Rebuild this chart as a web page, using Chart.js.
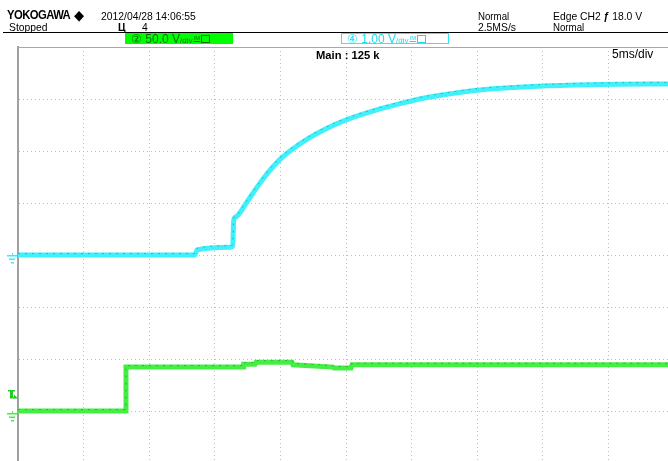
<!DOCTYPE html>
<html>
<head>
<meta charset="utf-8">
<script src="https://cdn.jsdelivr.net/npm/chart.js@4.4.0/dist/chart.umd.min.js"></script>
<style>
  html, body { margin: 0; padding: 0; background: #fff; }
  #wrap { position: relative; width: 668px; height: 461px; overflow: hidden;
          font-family: "Liberation Sans", Arial, sans-serif; }
  #myChart { position: absolute; left: 0; top: 0; }
  .t { position: absolute; font-size: 11px; line-height: 12px; color: #000; white-space: nowrap;
       transform: scaleX(0.94); transform-origin: left top; }
  .logo { font-weight: bold; font-size: 12px; letter-spacing: -0.6px; }
  .box { position: absolute; top: 33px; height: 11px; width: 108px; box-sizing: border-box;
         font-size: 12px; line-height: 11px; white-space: nowrap; }
  .box .c { position: absolute; left: 6px; top: 0; }
  .box .sm { font-size: 8px; }
  .box .ic { font-size: 6px; text-decoration: underline; vertical-align: 3px; margin-left: 1px; }
  .box .sq { display: inline-block; width: 7px; height: 6px; border: 1px solid currentColor;
             margin-left: 1px; vertical-align: 0px; }
</style>
</head>
<body>
<div id="wrap">
  <canvas id="myChart" width="668" height="461"></canvas>

  <div class="t logo" style="left:7px;top:9px;">YOKOGAWA</div>
  <div class="t" style="left:74px;top:8px;font-size:14px;line-height:14px;">◆</div>
  <div class="t" style="left:101px;top:10px;">2012/04/28 14:06:55</div>
  <div class="t" style="left:9px;top:21px;">Stopped</div>
  <div class="t" style="left:118px;top:21px;font-weight:bold;">Ц</div>
  <div class="t" style="left:142px;top:21px;">4</div>
  <div class="t" style="left:478px;top:10px;transform:scaleX(0.88);">Normal</div>
  <div class="t" style="left:478px;top:21px;">2.5MS/s</div>
  <div class="t" style="left:553px;top:10px;">Edge CH2 <b>ƒ</b> 18.0 V</div>
  <div class="t" style="left:553px;top:21px;transform:scaleX(0.88);">Normal</div>
  <div style="position:absolute;left:3px;top:32px;width:665px;height:1px;background:#000;"></div>

  <div class="box" style="left:125px;background:#00ff00;color:#0b6b0b;">
    <span class="c">② 50.0 V<span class="sm">/div</span><span class="ic">IM</span><span class="sq"></span></span>
  </div>
  <div class="box" style="left:341px;border:1px solid #30e8f8;color:#20d8f0;">
    <span class="c" style="left:5px;top:-1px;">④ 1.00 V<span class="sm">/div</span><span class="ic">IM</span><span class="sq"></span></span>
  </div>

  <div class="t" style="left:316px;top:49px;font-weight:bold;transform:scaleX(1.02);">Main : 125 k</div>
  <div class="t" style="left:612px;top:48px;font-size:12px;line-height:13px;transform:none;">5ms/div</div>
</div>

<script>
// CH4 (cyan), 1 V/div, time in ms
var cyanTimes = [0, 13.49, 13.64, 16.16, 16.36, 16.44, 16.60, 17.45, 18.29, 19.10, 19.97, 20.88, 22.10, 23.40, 24.92, 27.21, 29.12, 30.79, 32.93, 35.0, 40.0, 44.36, 49.54];
var cyanVolts = [0, 0, 0.10, 0.15, 0.17, 0.67, 0.73, 1.02, 1.33, 1.60, 1.84, 2.03, 2.24, 2.42, 2.59, 2.78, 2.91, 3.01, 3.10, 3.17, 3.25, 3.28, 3.29];

// CH2 (green), 50 V/div
var greenTimes = [0, 8.16, 8.23, 17.15, 17.2, 18.06, 18.14, 20.88, 20.96, 24.0, 24.08, 25.38, 25.46, 49.54];
var greenVolts = [0, 0, 42.3, 42.3, 45, 45, 47, 47, 44.5, 42.3, 41.3, 41.3, 44.5, 44.5];

var triggerLevel = 18.0;
var timePerDiv = 5;

function pairs(xs, ys) {
  return xs.map(function (x, i) { return { x: x, y: ys[i] }; });
}

// ground symbols, trigger mark, top frame line, trace speckle
var scopeMarks = {
  id: "scopeMarks",
  afterDatasetsDraw: function (chart) {
    var ctx = chart.ctx;
    chart.data.datasets.forEach(function (ds, i) {
      var meta = chart.getDatasetMeta(i);
      ctx.save();
      ctx.translate(0, -1.5);
      ctx.strokeStyle = ds.speckle;
      ctx.lineWidth = 1;
      ctx.setLineDash([2, 5]);
      ctx.beginPath();
      meta.dataset.path(ctx);
      ctx.stroke();
      ctx.restore();
    });
  },
  afterDraw: function (chart) {
    var ctx = chart.ctx;
    var area = chart.chartArea;

    ctx.save();
    ctx.strokeStyle = "#a8a8a8";
    ctx.lineWidth = 1;
    ctx.beginPath();
    ctx.moveTo(area.left, area.top + 0.5);
    ctx.lineTo(area.right, area.top + 0.5);
    ctx.stroke();

    function ground(y, color) {
      ctx.fillStyle = color;
      y = Math.round(y);
      ctx.fillRect(12, y - 2, 1, 2);
      ctx.fillRect(7, y, 10, 1.5);
      ctx.fillRect(9, y + 3.5, 6, 1.5);
      ctx.fillRect(11, y + 7, 3, 1.5);
    }
    ground(chart.scales.y.getPixelForValue(0), "#40e8f8");
    ground(chart.scales.y2.getPixelForValue(0) + 2, "#44ee44");

    // trigger level mark
    var ty = Math.round(chart.scales.y2.getPixelForValue(triggerLevel));
    ctx.fillStyle = "#22cc22";
    ctx.fillRect(8, ty - 2, 7, 1.5);
    ctx.fillRect(10, ty - 2, 3, 8);
    ctx.fillRect(10, ty + 5, 5, 1.5);
    ctx.beginPath();
    ctx.moveTo(14, ty + 6.5);
    ctx.lineTo(18, ty + 6.5);
    ctx.lineTo(14, ty + 2.5);
    ctx.closePath();
    ctx.fill();
    ctx.restore();
  }
};

var ctx = document.getElementById("myChart");

var gridStyle = { color: "#bdbdbd", drawTicks: false, lineWidth: 1, borderDash: [1, 3] };

var myChart = new Chart(ctx, {
  type: "line",
  data: {
    datasets: [{
      label: "CH2",
      data: pairs(greenTimes, greenVolts),
      yAxisID: "y2",
      borderColor: "#44ee44",
      speckle: "rgba(20,110,20,0.45)",
      borderWidth: 5,
      pointRadius: 0,
      tension: 0
    }, {
      label: "CH4",
      data: pairs(cyanTimes, cyanVolts),
      yAxisID: "y",
      borderColor: "#40f0fa",
      speckle: "rgba(20,110,120,0.45)",
      borderWidth: 5,
      pointRadius: 0,
      cubicInterpolationMode: "monotone"
    }]
  },
  plugins: [scopeMarks],
  options: {
    responsive: false,
    animation: false,
    events: [],
    layout: { padding: { left: 18, top: 47, right: 0, bottom: 0 } },
    plugins: {
      legend: { display: false },
      tooltip: { enabled: false }
    },
    scales: {
      x: {
        type: "linear",
        min: 0,
        max: 49.54,
        ticks: { display: false, stepSize: timePerDiv },
        grid: gridStyle,
        border: { display: false, dash: [1, 3] }
      },
      y: {
        min: -3.96,
        max: 4,
        ticks: { display: false, stepSize: 1 },
        afterBuildTicks: function (axis) {
          axis.ticks = axis.ticks.filter(function (t) { return Number.isInteger(t.value) && t.value < 4; });
        },
        grid: gridStyle,
        border: { display: true, color: "#a0a0a0", width: 2, dash: [1, 3] }
      },
      y2: {
        display: false,
        min: -48,
        max: 350
      }
    }
  }
});
</script>
</body>
</html>
